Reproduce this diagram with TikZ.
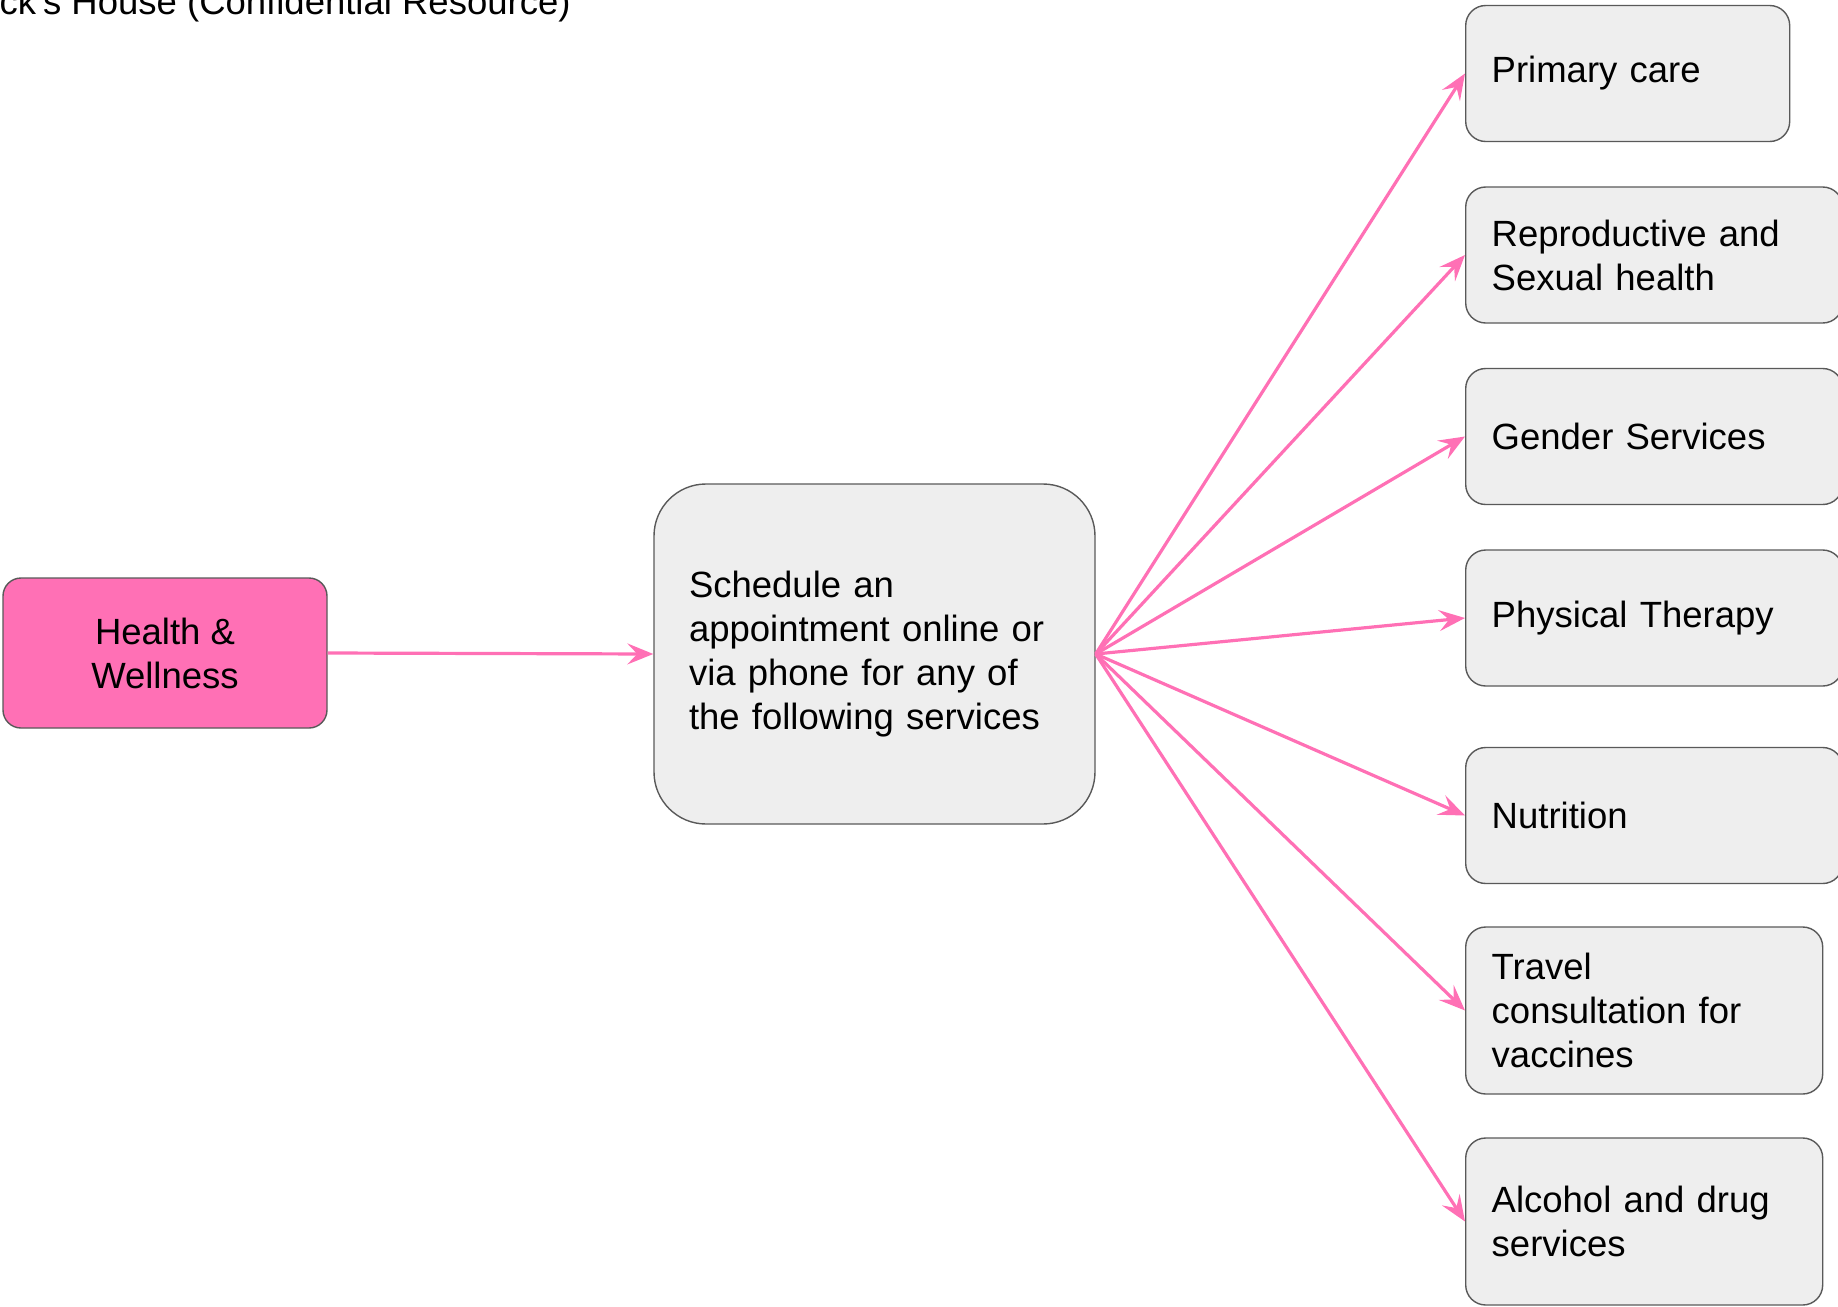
\documentclass[tikz,border=0pt]{standalone}
\usepackage{fontspec}
\setmainfont{Liberation Sans}
\usepackage{xcolor}
\definecolor{pink}{HTML}{FF70B5}
\definecolor{boxgray}{HTML}{EEEEEE}
\definecolor{edge}{HTML}{595959}
\usetikzlibrary{arrows.meta}

\begin{document}
\begin{tikzpicture}[x=0.5pt, y=-0.5pt,
  every node/.style={font=\fontsize{18.25}{22}\selectfont},
  service/.style={draw=edge, line width=0.7pt, fill=boxgray, rounded corners=10pt, anchor=west, align=left, inner xsep=13pt, minimum height=68pt, text width=162.5pt},
  link/.style={draw=pink, line width=1.6pt, -{Stealth[length=13pt, width=10.5pt, inset=5pt]}}]
  \useasboundingbox (0,0) rectangle (1838,1307);
  % Page title (cut off on the left)
  \node[anchor=base east, inner sep=0pt] (title) at (571,14) {ck\textquotesingle s House (Confidential Resource)};
  % Start and middle step
  \node[draw=edge, line width=0.7pt, fill=pink, rounded corners=9pt, minimum width=162pt, minimum height=75pt, align=center] (health) at (165,653) {Health \&\\Wellness};
  \node[draw=edge, line width=0.7pt, fill=boxgray, rounded corners=26pt, minimum width=220.5pt, minimum height=170pt, inner xsep=17.5pt, text width=185.5pt, align=left] (schedule) at (874.5,654) {Schedule an\\appointment online or\\via phone for any of\\the following services};
  % Services
  \node[service, text width=136pt] (primary) at (1465,73.5) {Primary care};
  \node[service] (reproductive) at (1465,255) {Reproductive and\\Sexual health};
  \node[service] (gender) at (1465,436.5) {Gender Services};
  \node[service] (physical) at (1465,618) {Physical Therapy};
  \node[service] (nutrition) at (1465,815.5) {Nutrition};
  \node[service, text width=152.5pt, minimum height=83.5pt] (travel) at (1465,1010.5) {Travel\\consultation for\\vaccines};
  \node[service, text width=152.5pt, minimum height=83.5pt] (alcohol) at (1465,1221.5) {Alcohol and drug\\services};
  % Connectors
  \draw[link] (health.east) -- (schedule.west);
  \foreach \s in {primary, reproductive, gender, physical, nutrition, travel, alcohol}
    \draw[link] (schedule.east) -- (\s.west);
\end{tikzpicture}
\end{document}
